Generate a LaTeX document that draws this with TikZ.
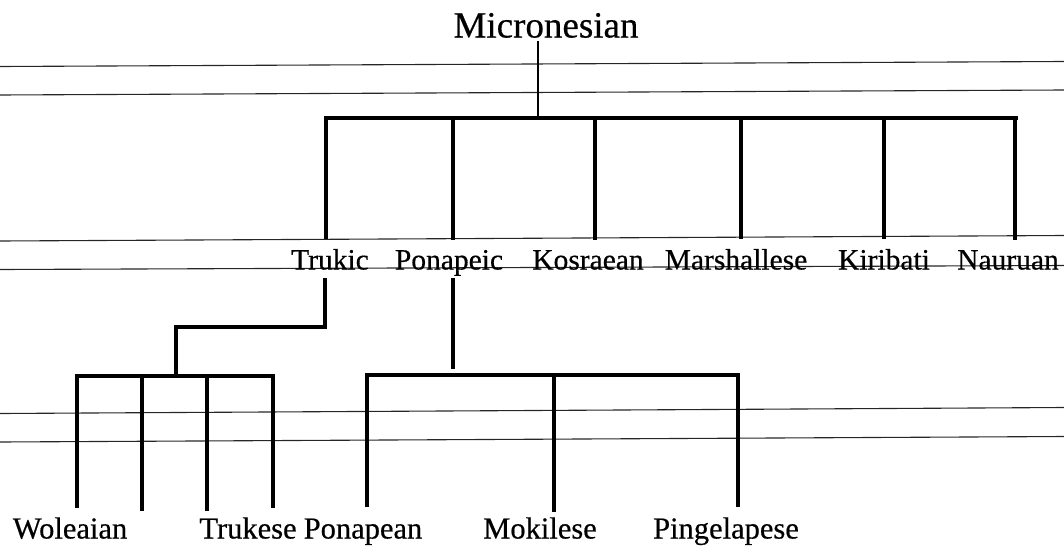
\documentclass[tikz,border=0pt]{standalone}
\usepackage{fontspec}
\setmainfont{Liberation Serif}[FakeBold=0.5]

\begin{document}
\begin{tikzpicture}[x=1pt,y=-1pt,
rule/.style={black!85,line width=1.1pt},
branch/.style={line width=3.6pt,line cap=rect},
lang/.style={anchor=base,inner sep=0pt,font=\fontsize{29.5}{32}\selectfont},
leaf/.style={anchor=base,inner sep=0pt,font=\fontsize{30.5}{32}\selectfont}]
\useasboundingbox (0,0) rectangle (1064,546);

% The ruled lines of the page
\draw[rule] (0,66.5) -- (1064,61.5);
\draw[rule] (0,95) -- (1064,90);
\draw[rule] (0,241) -- (1064,235.5);
\draw[rule] (0,269.5) -- (1064,265.5);
\draw[rule] (0,413.5) -- (1064,407.5);
\draw[rule] (0,442) -- (1064,436.5);

% The names
\node[anchor=base,inner sep=0pt,font=\fontsize{37}{40}\selectfont] (root) at (546,37.5) {Micronesian};
\foreach \x/\n/\t in {330/trukic/Trukic,449/ponapeic/Ponapeic,588/kosraean/Kosraean,
  736/marshallese/Marshallese,884/kiribati/Kiribati,1008/nauruan/Nauruan}
  \node[lang] (\n) at (\x,269.5) {\t};
\foreach \x/\n/\t in {70/woleaian/Woleaian,248/trukese/Trukese,363/ponapean/Ponapean,
  540/mokilese/Mokilese,726/pingelapese/Pingelapese}
  \node[leaf] (\n) at (\x,538.5) {\t};

% The first split
\coordinate (top) at (538,118);
\draw[branch,line width=2.8pt,shorten <=4pt] (top |- root.south) -- (top);
\draw[branch] (326,118) -- (1016,118);
\foreach \x/\n in {326/trukic,453/ponapeic,595/kosraean,741/marshallese,884/kiribati,1015/nauruan}
{
  \coordinate (\n-up) at (\x,118);
  \draw[branch] (\n-up) -- (\n-up |- \n.north) [shorten >=12pt];
}

% Trukic and its daughters
\coordinate (tk) at (325,280);
\coordinate (tk-bar) at (176,376);
\draw[branch] (tk) |- (tk-bar |- 0,327) -- (tk-bar);
\draw[branch] (77,376) -- (273,376);
\foreach \x/\y in {77/506,142/509,207/509,273/506}
  \draw[branch] (\x,376) -- (\x,\y);

% Ponapeic and its daughters
\coordinate (pn) at (453,280);
\draw[branch] (pn) -- (453,367);
\draw[branch] (367,375) -- (738,375);
\foreach \x/\y in {367/505,554/510,738/505}
  \draw[branch] (\x,375) -- (\x,\y);

\end{tikzpicture}
\end{document}
